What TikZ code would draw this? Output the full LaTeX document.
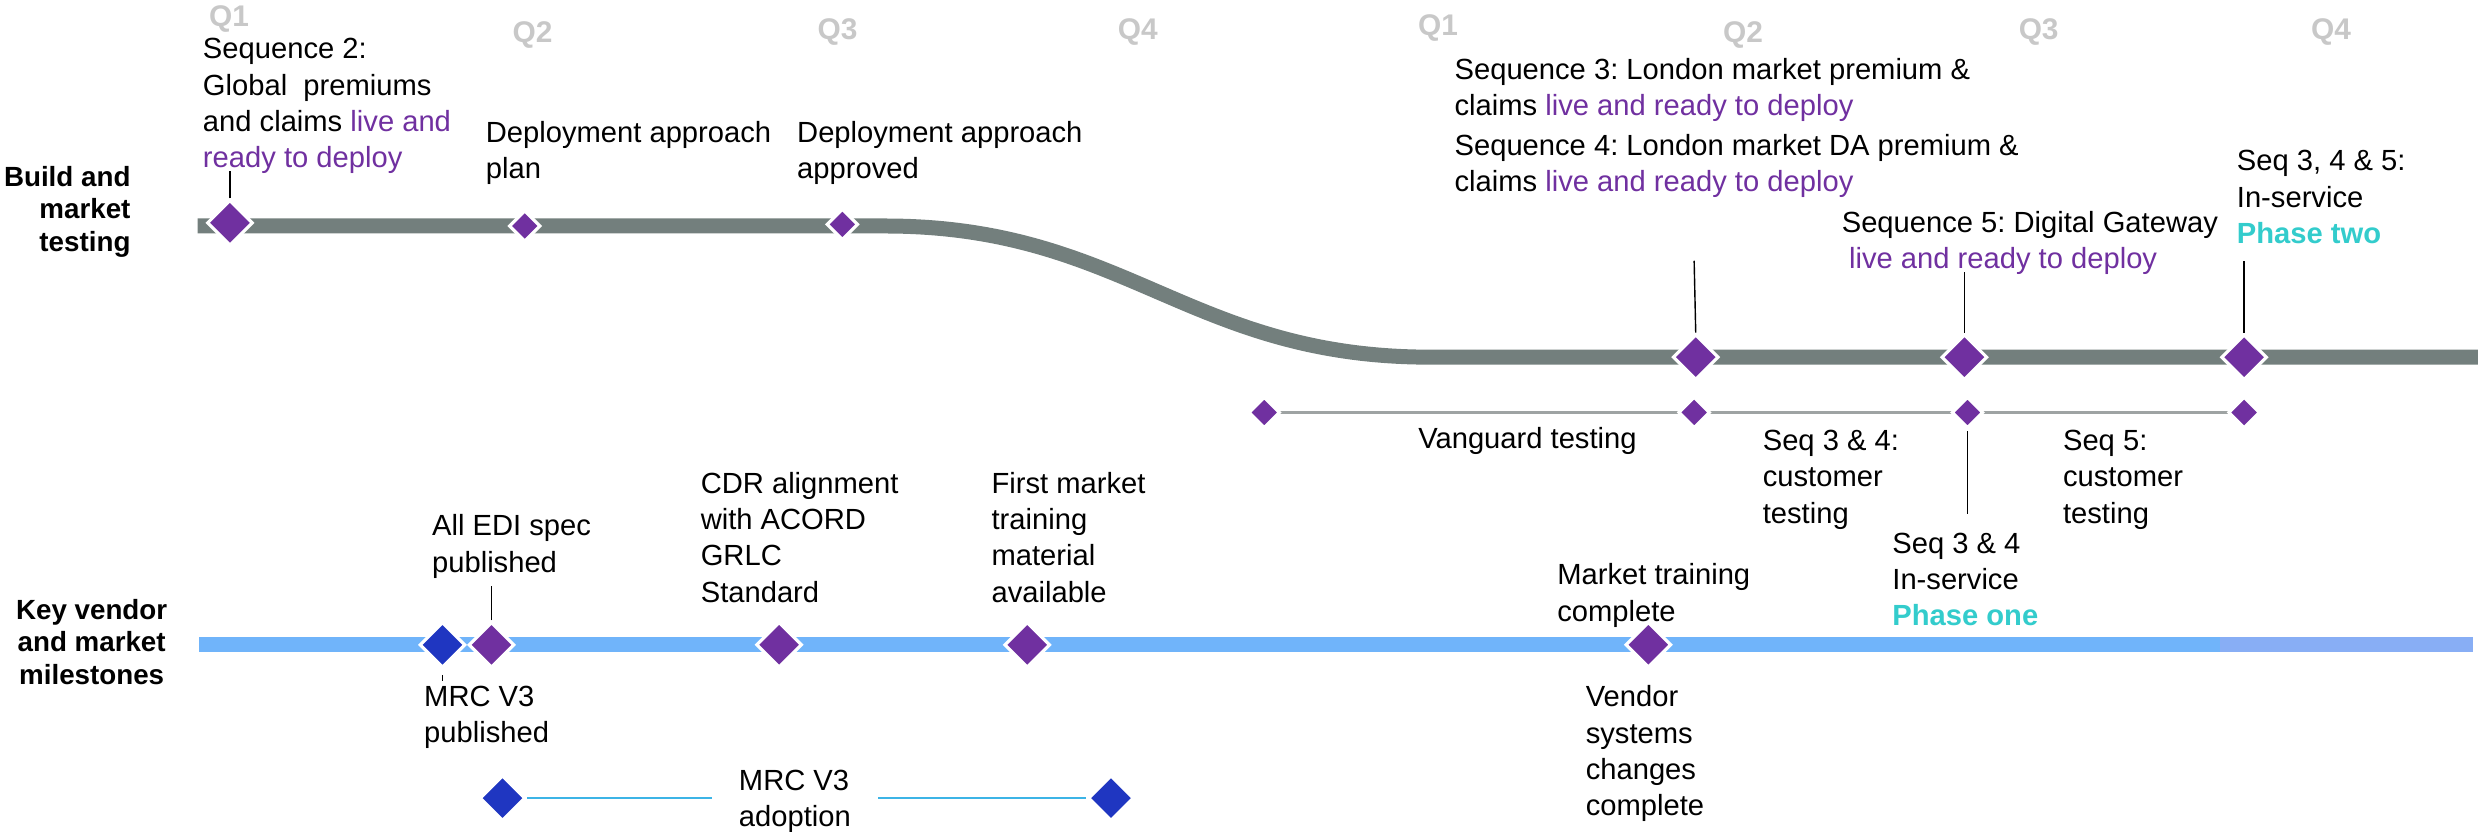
\documentclass[tikz,border=0pt]{standalone}
\usepackage{fontspec}
\setmainfont{Liberation Sans}
\usetikzlibrary{shapes.geometric}
\definecolor{purp}{HTML}{7030A0}
\definecolor{barg}{HTML}{737F7D}
\definecolor{tealc}{HTML}{33CCCC}
\definecolor{dblue}{HTML}{1F36C1}
\definecolor{barb}{HTML}{70B4FA}
\definecolor{barbl}{HTML}{88AEF5}
\definecolor{qgray}{HTML}{C8C8C8}
\definecolor{lineg}{HTML}{9EA3A3}
\definecolor{lineb}{HTML}{3CB4E6}
\def\pxu{0.015804cm}
\frenchspacing
\tikzset{
  txt/.style={font=\fontsize{8.3}{10.3}\selectfont, align=left, anchor=base west, inner sep=0pt},
  lbl/.style={font=\bfseries\fontsize{7.9}{9.2}\selectfont, inner sep=0pt},
  qlab/.style={font=\bfseries\fontsize{8.5}{10}\selectfont, text=qgray, inner sep=0pt},
  dia/.style={diamond, inner sep=0pt, fill=purp, draw=white, line width=0.9pt},
  diaBig/.style={dia, minimum width=29*\pxu, minimum height=29*\pxu},
  diaSmall/.style={dia, minimum width=20*\pxu, minimum height=20*\pxu},
  leader/.style={draw=black, line width=0.4pt},
}
\begin{document}
\begin{tikzpicture}[x=0.015804cm, y=-0.015804cm]
\useasboundingbox (0,0) rectangle (1568,526.4);

% quarter labels
\node[qlab] (q1a) at (145,12) {Q1};
\node[qlab] (q2a) at (337,22) {Q2};
\node[qlab] (q3a) at (530,20) {Q3};
\node[qlab] (q4a) at (720,20) {Q4};
\node[qlab] (q1b) at (910,18) {Q1};
\node[qlab] (q2b) at (1103,22) {Q2};
\node[qlab] (q3b) at (1290,20) {Q3};
\node[qlab] (q4b) at (1475,20) {Q4};

% row labels
\node[lbl, align=right, anchor=base east] (rowA) at (83,159) {Build and\\market\\testing};
\node[lbl, align=center, anchor=base] (rowB) at (58,433) {Key vendor\\and market\\milestones};

% bars
\coordinate (gA) at (125,143);
\coordinate (gB) at (560,143);
\coordinate (gC) at (905,226);
\coordinate (gD) at (1568,226);
\draw[barg, line width=0.15cm] (gA) -- (gB) .. controls (712,143) and (752,226) .. (gC) -- (gD);
\coordinate (bA) at (126,408);
\coordinate (bB) at (1405,408);
\coordinate (bC) at (1565,408);
\draw[barb, line width=0.15cm] (bA) -- (bB);
\draw[barbl, line width=0.15cm] (bB) -- (bC);

% vanguard line diamonds
\coordinate (v1c) at (800,261);
\coordinate (v4c) at (1420,261);
\draw[lineg, line width=0.6pt] (v1c) -- (v4c);
\node[diaSmall] (v1) at (v1c) {};
\node[diaSmall] (v2) at (1072,261) {};
\node[diaSmall] (v3) at (1245,261) {};
\node[diaSmall] (v4) at (v4c) {};

% build bar diamonds
\node[diaBig] (g1) at (145.5,141) {};
\node[diaSmall] (g2) at (332,143) {};
\node[diaSmall] (g3) at (533,142) {};
\node[diaBig] (g4) at (1073,226) {};
\node[diaBig] (g5) at (1243,226) {};
\node[diaBig] (g6) at (1420,226) {};

% blue bar diamonds
\node[diaBig, fill=dblue] (b1) at (280,408) {};
\node[diaBig] (b2) at (311,408) {};
\node[diaBig] (b3) at (493,408) {};
\node[diaBig] (b4) at (650,408) {};
\node[diaBig] (b5) at (1043,408) {};

% MRC adoption
\node[diaBig, fill=dblue] (m1) at (318,505) {};
\node[diaBig, fill=dblue] (m2) at (703,505) {};
\draw[lineb, line width=0.8pt] (m1) -- (m2);
\node[font=\fontsize{8.3}{10.3}\selectfont, align=left, fill=white, inner xsep=0.27cm, inner ysep=0pt] (tmrca) at (503,507) {MRC V3\\adoption};

% texts (anchor = baseline of the last line)
\node[txt] (tseq2) at (128,106) {Sequence 2:\\Global\ \ premiums\\and claims \textcolor{purp}{live and}\\\textcolor{purp}{ready to deploy}};
\node[txt] (tdap) at (307,113) {Deployment approach\\plan};
\node[txt] (tdapp) at (504,113) {Deployment approach\\approved};
\node[txt] (tseq3) at (920,73) {Sequence 3: London market premium \&\\claims \textcolor{purp}{live and ready to deploy}};
\node[txt] (tseq4) at (920,121) {Sequence 4: London market DA premium \&\\claims \textcolor{purp}{live and ready to deploy}};
\node[txt] (tseq5) at (1165,170) {Sequence 5: Digital Gateway\\\hspace*{0.25em}\textcolor{purp}{live and ready to deploy}};
\node[txt] (tseq345) at (1415,154) {Seq 3, 4 \& 5:\\In-service\\\textcolor{tealc}{\bfseries Phase two}};
\node[txt] (tvang) at (897,284) {Vanguard testing};
\node[txt] (tc34) at (1115,331) {Seq 3 \& 4:\\customer\\testing};
\node[txt] (tc5) at (1305,331) {Seq 5:\\customer\\testing};
\node[txt] (tph1) at (1197,396) {Seq 3 \& 4\\In-service\\\textcolor{tealc}{\bfseries Phase one}};
\node[txt] (tmtc) at (985,393) {Market training\\complete};
\node[txt] (tvsc) at (1003,516) {Vendor\\systems\\changes\\complete};
\node[txt] (tedi) at (273,362) {All EDI spec\\published};
\node[txt] (tcdr) at (443,381) {CDR alignment\\with ACORD\\GRLC\\Standard};
\node[txt] (tfmt) at (627,381) {First market\\training\\material\\available};
\node[txt] (tmrcp) at (268,470) {MRC V3\\published};

% leaders
\coordinate (l1) at (145.5,108);
\draw[leader] (g1.north) -- (l1);
\coordinate (l4) at (1072,165);
\draw[leader] (g4.north) -- (l4);
\coordinate (l5) at (1243,172);
\draw[leader] (g5.north) -- (l5);
\coordinate (l6) at (1420,165);
\draw[leader] (g6.north) -- (l6);
\coordinate (lph1a) at (1245,273);
\coordinate (lph1) at (1245,325);
\draw[leader] (lph1a) -- (lph1);
\coordinate (ledi) at (311,371);
\draw[leader] (b2.north) -- (ledi);
\coordinate (lt1) at (280,427);
\coordinate (lt2) at (280,431);
\draw[leader] (lt1) -- (lt2);
\end{tikzpicture}
\end{document}
